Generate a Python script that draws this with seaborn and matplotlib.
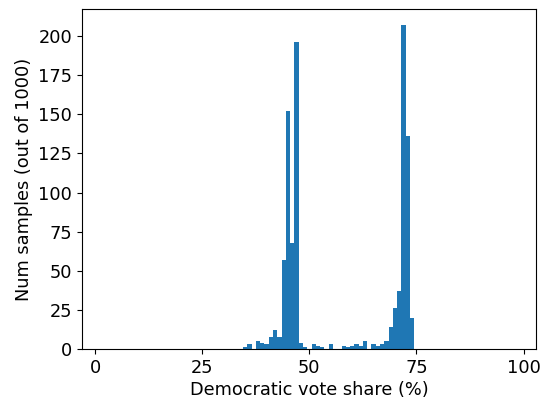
import pandas as pd
import matplotlib
matplotlib.use("Agg")
import matplotlib.pyplot as plt
import seaborn as sns

# vote share bins (centres, %) and how many of 1000 samples fell in each
vote_share = [35, 36, 37, 38, 39, 40, 41, 42, 43, 44, 45, 46, 47, 48, 49,
              50, 51, 52, 53, 54, 55, 56, 57, 58, 59, 60, 61, 62, 63, 64,
              65, 66, 67, 68, 69, 70, 71, 72, 73, 74]
num_samples = [1, 3, 0, 5, 4, 3, 8, 12, 8, 57, 152, 68, 196, 4, 1,
               0, 3, 2, 1, 0, 3, 0, 0, 2, 1, 2, 3, 2, 5, 0,
               3, 2, 3, 5, 14, 26, 37, 207, 136, 20]
x_ticks = [0, 25, 50, 75, 100]

df = pd.DataFrame({"share": vote_share, "n": num_samples})

# plain matplotlib look, no seaborn theme
plt.rcParams["font.family"] = ["DejaVu Sans"]

fig, ax = plt.subplots(figsize=(5.48, 4.04), dpi=100)
fig.subplots_adjust(left=0.1496, right=0.978, top=0.978, bottom=0.136)

sns.histplot(data=df, x="share", weights="n", binwidth=1, binrange=(-0.5, 100.5),
             color="#1f77b4", alpha=1, linewidth=0, ax=ax)

ax.set_xlim(-3.1, 102.9)
ax.set_ylim(0, 217.35)
ax.set_xticks(x_ticks)
ax.set_yticks(range(0, 201, 25))
ax.tick_params(labelsize=12.8)
ax.set_xlabel("Democratic vote share (%)", fontsize=12.8, labelpad=3)
ax.set_ylabel("Num samples (out of 1000)", fontsize=12.8)

plt.savefig("out.png", dpi=100)
